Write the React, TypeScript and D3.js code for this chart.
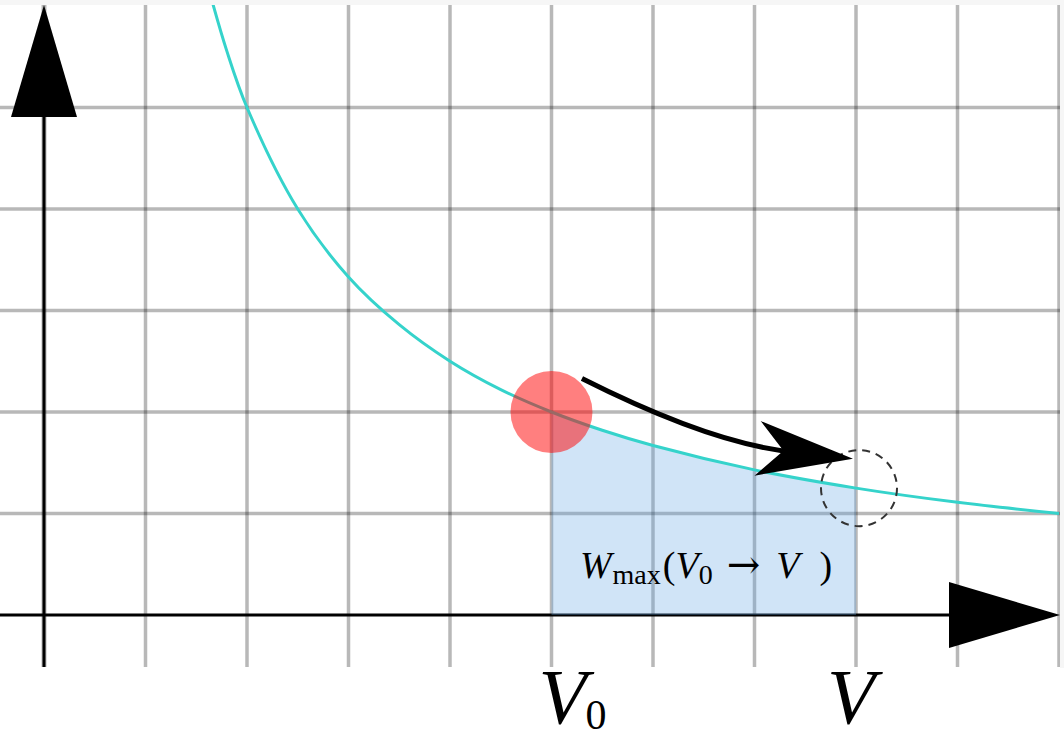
import React from "react";
import * as d3 from "d3";

// Isotherm points (V, p in grid units)
const curveV = [1.6, 1.8, 2, 2.5, 3, 3.5, 4, 4.5, 5, 5.5, 6, 7, 8, 9, 10];
const curveP = [6.25, 5.56, 5.0, 4.0, 3.33, 2.86, 2.5, 2.22, 2.0, 1.82, 1.67, 1.43, 1.25, 1.11, 1.0];

const gridV = [1, 2, 3, 4, 5, 6, 7, 8, 9, 10];
const gridP = [1, 2, 3, 4, 5];

const V0 = 5;
const V1 = 8;
const p0 = 2.0;
const p1 = 1.25;

// arrow annotation (data units)
const arrowStart = [5.3, 2.33];
const arrowCtrl = [6.59, 1.68];
const arrowTip = [7.97, 1.54];

export default function App() {
  const W = 1064, H = 739;
  const x = d3.scaleLinear().domain([0, 10]).range([44, 1059]);
  const y = d3.scaleLinear().domain([0, 6]).range([615, 6]);

  const pts: [number, number][] = curveV.map((v, i) => [v, curveP[i]]);
  const line = d3.line<[number, number]>().x(d => x(d[0])).y(d => y(d[1])).curve(d3.curveCatmullRom);
  const area = d3.area<[number, number]>().x(d => x(d[0])).y0(y(0)).y1(d => y(d[1])).curve(d3.curveCatmullRom);

  const sx = x(arrowStart[0]), sy = y(arrowStart[1]);
  const cx = x(arrowCtrl[0]), cy = y(arrowCtrl[1]);
  const tx = x(arrowTip[0]), ty = y(arrowTip[1]);
  const ux = 0.993, uy = 0.113;
  const nx = -uy, ny = ux;
  const notchX = tx - 70 * ux, notchY = ty - 70 * uy;
  const b1x = tx - 96 * ux - 27 * nx, b1y = ty - 96 * uy - 27 * ny;
  const b2x = tx - 96 * ux + 28 * nx, b2y = ty - 96 * uy + 28 * ny;
  const arrowPath = d3.path();
  arrowPath.moveTo(sx, sy);
  arrowPath.quadraticCurveTo(cx, cy, notchX + 10 * ux, notchY + 10 * uy);

  const gridColor = "rgba(0,0,0,0.28)";
  const serif = "'Liberation Serif', 'DejaVu Serif', serif";

  return (
    <svg width={W} height={H} style={{ position: "absolute", left: 0, top: 0 }}>
      <defs>
        <clipPath id="fillclip">
          <rect x={x(V0)} y={0} width={x(V1) - x(V0)} height={y(0)} />
        </clipPath>
        <clipPath id="plotclip">
          <rect x={0} y={5} width={1060} height={H - 5} />
        </clipPath>
      </defs>
      <rect x={0} y={0} width={W} height={H} fill="#f6f6f6" />
      <rect x={0} y={5} width={1060} height={H - 5} fill="#ffffff" />
      <rect x={1060} y={668} width={4} height={H - 668} fill="#ffffff" />
      <g clipPath="url(#plotclip)">
        {gridV.map(v => (
          <line key={"gv" + v} x1={x(v)} x2={x(v)} y1={5} y2={667} stroke={gridColor} strokeWidth={3.5} />
        ))}
        {gridP.map(p => (
          <line key={"gp" + p} x1={0} x2={1060} y1={y(p)} y2={y(p)} stroke={gridColor} strokeWidth={3.5} />
        ))}
        <line x1={x(0)} x2={x(0)} y1={5} y2={667} stroke={gridColor} strokeWidth={5} />
        {/* axes */}
        <line x1={x(0)} x2={x(0)} y1={60} y2={667} stroke="#000" strokeWidth={3} />
        <line x1={0} x2={1000} y1={y(0)} y2={y(0)} stroke="#000" strokeWidth={3} />
        <polygon points={`${x(0)},5 ${x(0) - 33},117 ${x(0) + 33},117`} fill="#000" />
        <polygon points={`1060,${y(0)} 949,${y(0) - 33} 949,${y(0) + 33}`} fill="#000" />
        {/* work area */}
        <path d={area(pts) || ""} fill="rgba(100,165,230,0.3)" clipPath="url(#fillclip)" />
        {/* isotherm */}
        <path d={line(pts) || ""} fill="none" stroke="#35d3cb" strokeWidth={3} />
        {/* state points */}
        <circle cx={x(V0)} cy={y(p0)} r={41} fill="rgba(255,0,0,0.5)" />
        <circle cx={x(V1) + 3} cy={y(p1)} r={38} fill="none" stroke="#333" strokeWidth={2} strokeDasharray="8 6" />
        {/* arrow */}
        <path d={arrowPath.toString()} fill="none" stroke="#000" strokeWidth={5} />
        <polygon points={`${tx},${ty} ${b1x},${b1y} ${notchX},${notchY} ${b2x},${b2y}`} fill="#000" />
      </g>
      {/* label W_max */}
      <text x={x(5.28)} y={y(0.36)} fontFamily={serif} fontSize={38} fill="#000">
        <tspan fontStyle="italic">W</tspan>
        <tspan fontSize={28} dy={6} dx={1}>max</tspan>
        <tspan dy={-6} dx={2}>(</tspan>
        <tspan fontStyle="italic">V</tspan>
        <tspan fontSize={28} dy={6}>0</tspan>
        <tspan dy={-6} dx={14} fontFamily="'DejaVu Serif', serif" fontSize={40}>→</tspan>
        <tspan fontStyle="italic" dx={16}>V</tspan>
        <tspan dx={20}>)</tspan>
      </text>
      {/* axis labels */}
      <text x={x(V0) - 13} y={723} fontFamily={serif} fontSize={79} fontStyle="italic" fill="#000">V</text>
      <text x={x(V0) + 34} y={729} fontFamily={serif} fontSize={42} fill="#000">0</text>
      <text x={x(V1) - 29} y={723} fontFamily={serif} fontSize={79} fontStyle="italic" fill="#000">V</text>
    </svg>
  );
}
